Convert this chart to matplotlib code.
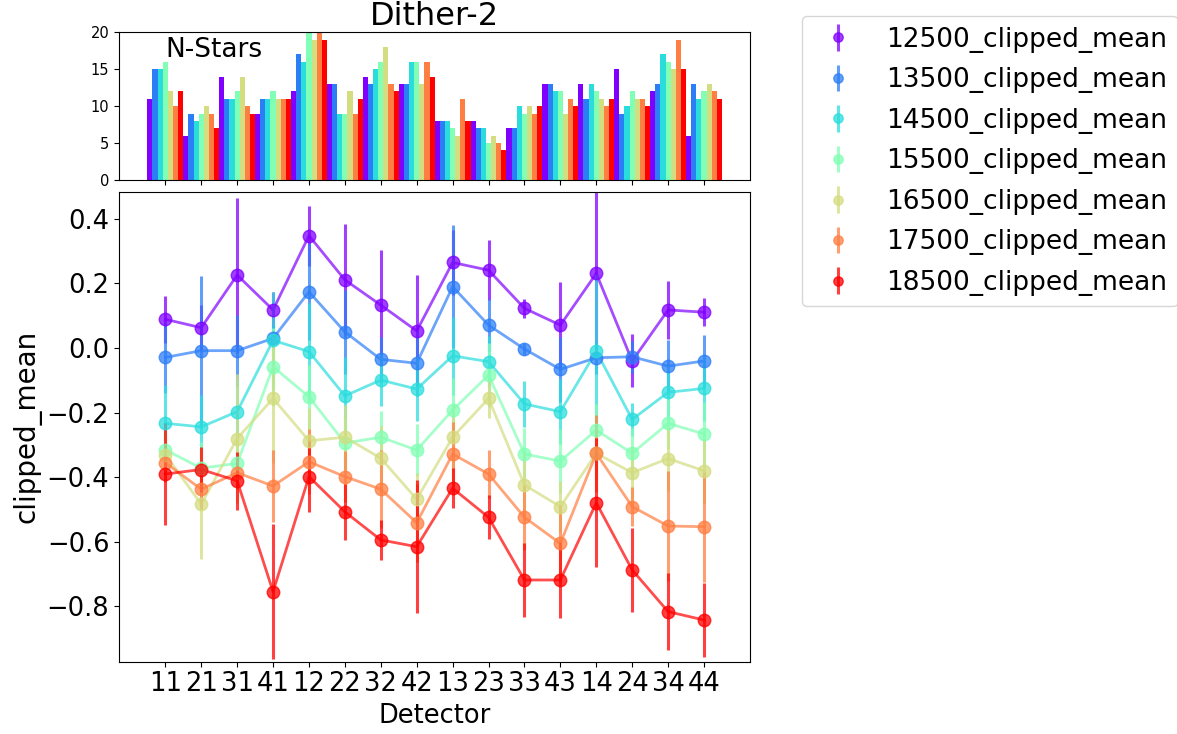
import matplotlib
matplotlib.use('Agg')
import matplotlib.pyplot as plt
import numpy as np

# Detector names along the x axis
detectors = ['11', '21', '31', '41', '12', '22', '32', '42',
             '13', '23', '33', '43', '14', '24', '34', '44']
wavelengths = ['12500', '13500', '14500', '15500', '16500', '17500', '18500']

# number of stars per detector, one list per wavelength
nstars_12500 = [11, 6, 14, 9, 12, 13, 14, 13, 8, 8, 7, 13, 13, 15, 12, 6]
nstars_13500 = [15, 9, 11, 11, 17, 13, 13, 13, 8, 7, 7, 13, 11, 9, 13, 13]
nstars_14500 = [15, 8, 11, 11, 16, 9, 15, 16, 8, 7, 10, 12, 13, 10, 17, 11]
nstars_15500 = [16, 9, 12, 12, 20, 9, 16, 16, 7, 5, 9, 12, 12, 12, 16, 12]
nstars_16500 = [12, 10, 14, 11, 19, 12, 18, 13, 6, 6, 10, 9, 11, 11, 15, 13]
nstars_17500 = [10, 9, 10, 11, 21, 9, 13, 16, 11, 5, 9, 11, 10, 11, 19, 12]
nstars_18500 = [12, 7, 9, 11, 19, 11, 12, 14, 8, 4, 10, 10, 11, 10, 15, 11]

# clipped mean per detector
mean_12500 = [0.089, 0.063, 0.226, 0.118, 0.348, 0.211, 0.133, 0.053,
              0.265, 0.241, 0.123, 0.071, 0.231, -0.040, 0.118, 0.111]
mean_13500 = [-0.029, -0.008, -0.008, 0.030, 0.174, 0.050, -0.035, -0.047,
              0.190, 0.071, -0.003, -0.066, -0.030, -0.027, -0.056, -0.040]
mean_14500 = [-0.233, -0.244, -0.197, 0.024, -0.011, -0.148, -0.099, -0.127,
              -0.024, -0.042, -0.173, -0.197, -0.010, -0.221, -0.137, -0.125]
mean_15500 = [-0.315, -0.372, -0.357, -0.058, -0.151, -0.294, -0.276, -0.316,
              -0.192, -0.084, -0.328, -0.350, -0.254, -0.326, -0.233, -0.266]
mean_16500 = [-0.330, -0.483, -0.280, -0.156, -0.287, -0.276, -0.341, -0.468,
              -0.276, -0.156, -0.424, -0.491, -0.326, -0.386, -0.342, -0.380]
mean_17500 = [-0.355, -0.437, -0.386, -0.427, -0.352, -0.398, -0.437, -0.541,
              -0.328, -0.390, -0.524, -0.605, -0.326, -0.491, -0.551, -0.553]
mean_18500 = [-0.390, -0.376, -0.411, -0.754, -0.398, -0.507, -0.594, -0.615,
              -0.434, -0.524, -0.718, -0.718, -0.479, -0.687, -0.816, -0.842]

# error bars
err_12500 = [0.072, 0.07, 0.24, 0.055, 0.093, 0.172, 0.17, 0.172,
             0.10, 0.093, 0.03, 0.134, 0.26, 0.082, 0.09, 0.043]
err_13500 = [0.11, 0.23, 0.11, 0.04, 0.15, 0.13, 0.07, 0.10,
             0.19, 0.08, 0.02, 0.10, 0.05, 0.05, 0.08, 0.08]
err_14500 = [0.12, 0.10, 0.10, 0.15, 0.15, 0.12, 0.08, 0.10,
             0.12, 0.08, 0.07, 0.10, 0.24, 0.05, 0.08, 0.10]
err_15500 = [0.06, 0.08, 0.08, 0.12, 0.10, 0.08, 0.08, 0.08,
             0.10, 0.10, 0.08, 0.10, 0.08, 0.08, 0.08, 0.10]
err_16500 = [0.06, 0.17, 0.20, 0.20, 0.10, 0.10, 0.10, 0.08,
             0.10, 0.06, 0.10, 0.08, 0.08, 0.08, 0.10, 0.10]
err_17500 = [0.06, 0.06, 0.05, 0.11, 0.10, 0.08, 0.12, 0.12,
             0.10, 0.075, 0.10, 0.12, 0.12, 0.06, 0.17, 0.17]
err_18500 = [0.158, 0.07, 0.09, 0.21, 0.11, 0.087, 0.062, 0.206,
             0.062, 0.068, 0.116, 0.119, 0.20, 0.131, 0.12, 0.114]

nstars = [nstars_12500, nstars_13500, nstars_14500, nstars_15500,
          nstars_16500, nstars_17500, nstars_18500]
means = [mean_12500, mean_13500, mean_14500, mean_15500,
         mean_16500, mean_17500, mean_18500]
errs = [err_12500, err_13500, err_14500, err_15500,
        err_16500, err_17500, err_18500]

colors = plt.cm.rainbow(np.linspace(0, 1, len(wavelengths)))
x = np.arange(len(detectors))

fig = plt.figure(figsize=(11.77, 7.34), dpi=100)
ax_top = fig.add_axes([0.1011, 0.7548, 0.5364, 0.2012])
ax = fig.add_axes([0.1011, 0.0985, 0.5364, 0.6403])

# %%
# top panel: number of stars
nw = len(wavelengths)
width = 1.0 / nw
for i in range(nw):
    ax_top.bar(x - 0.5 + (i + 0.5) * width, nstars[i], width=width,
               color=colors[i])
ax_top.set_xlim(-1.29, 16.29)
ax_top.set_ylim(0, 20)
ax_top.set_yticks([0, 5, 10, 15, 20])
ax_top.set_xticks(x)
ax_top.set_xticklabels([])
ax_top.tick_params(axis='y', labelsize=10.5)
ax_top.text(0.073, 0.97, 'N-Stars', transform=ax_top.transAxes,
            fontsize=19, va='top')
ax_top.set_title('Dither-2', fontsize=23, pad=0)

# %%
# main panel: clipped mean per detector
handles = []
for i in range(nw):
    ax.plot(x, means[i], '-', color=colors[i], alpha=0.7, lw=2)
    h = ax.errorbar(x, means[i], yerr=errs[i], fmt='o', color=colors[i],
                    alpha=0.75, markersize=9, elinewidth=2.2,
                    label=wavelengths[i] + '_clipped_mean')
    handles.append(h)

ax.set_xlim(-1.29, 16.29)
ax.set_ylim(-0.971, 0.484)
ax.set_xticks(x)
ax.set_xticklabels(detectors)
ax.tick_params(axis='both', labelsize=18.5)
ax.set_xlabel('Detector', fontsize=18.5)
ax.set_ylabel('clipped_mean', fontsize=20)

fig.legend(handles=handles, loc='upper left', bbox_to_anchor=(0.681, 0.978),
           borderaxespad=0, fontsize=19, labelspacing=0.55, markerscale=0.75)

fig.savefig('out.png', dpi=100)
